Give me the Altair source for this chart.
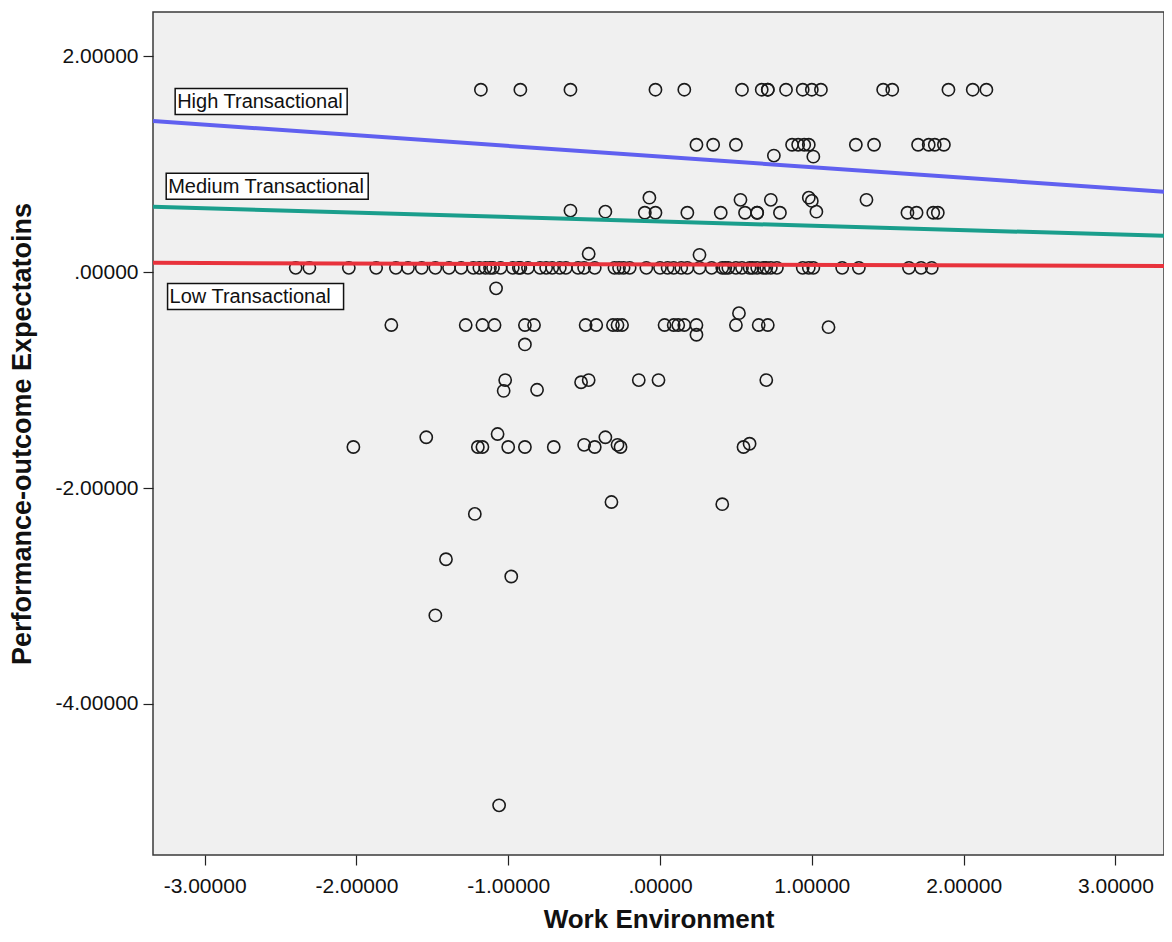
import altair as alt
import pandas as pd

# ---- scatter data (Work Environment vs Performance-outcome Expectations) ----
row1_x = [-1.18, -0.92, -0.59, -0.03, 0.16, 0.54, 0.67, 0.71, 0.71, 0.83, 0.94, 1.00, 1.06, 1.47, 1.53, 1.90, 2.06, 2.15]
row1_y = [1.69] * len(row1_x)

row2_x = [0.24, 0.35, 0.50, 0.75, 0.87, 0.91, 0.95, 0.98, 1.01, 1.29, 1.41, 1.70, 1.77, 1.81, 1.87]
row2_y = [1.18, 1.18, 1.18, 1.08, 1.18, 1.18, 1.18, 1.18, 1.07, 1.18, 1.18, 1.18, 1.18, 1.18, 1.18]

row3_x = [-0.59, -0.36, -0.10, -0.07, -0.03, 0.18, 0.40, 0.53, 0.56, 0.64, 0.64, 0.73, 0.79, 0.98, 1.00, 1.03, 1.36, 1.63, 1.69, 1.80, 1.83]
row3_y = [0.57, 0.56, 0.55, 0.69, 0.55, 0.55, 0.55, 0.67, 0.55, 0.55, 0.55, 0.67, 0.55, 0.69, 0.66, 0.56, 0.67, 0.55, 0.55, 0.55, 0.55]

row4_x = [-2.40, -2.31, -2.05, -1.87, -1.74, -1.66, -1.57, -1.48, -1.39, -1.31, -1.23, -1.19, -1.15, -1.12,
          -1.10, -1.05, -0.97, -0.93, -0.92, -0.87, -0.79, -0.75, -0.71, -0.66, -0.62, -0.54, -0.50, -0.43,
          -0.30, -0.27, -0.24, -0.20, -0.09, 0.00, 0.05, 0.09, 0.14, 0.18, 0.26, 0.34, 0.41, 0.43, 0.45,
          0.50, 0.54, 0.59, 0.61, 0.64, 0.68, 0.70, 0.73, 0.77, 0.94, 0.98, 1.01, 1.20, 1.31, 1.64, 1.72, 1.79,
          -0.47, 0.26, -1.08]
row4_y = [0.04] * 60 + [0.17, 0.16, -0.15]

row5_x = [-1.77, -1.28, -1.17, -1.09, -0.89, -0.83, -0.49, -0.42, -0.31, -0.28, -0.25, 0.03, 0.09, 0.12,
          0.16, 0.24, 0.50, 0.65, 0.71, 1.11, -0.89, 0.24, 0.52]
row5_y = [-0.49] * 19 + [-0.51, -0.67, -0.58, -0.38]

row6_x = [-1.02, -1.03, -0.81, -0.52, -0.47, -0.14, -0.01, 0.70]
row6_y = [-1.00, -1.10, -1.09, -1.02, -1.00, -1.00, -1.00, -1.00]

row7_x = [-2.02, -1.54, -1.20, -1.17, -1.07, -1.00, -0.89, -0.70, -0.50, -0.43, -0.36, -0.28, -0.26, 0.55, 0.59]
row7_y = [-1.62, -1.53, -1.62, -1.62, -1.50, -1.62, -1.62, -1.62, -1.60, -1.62, -1.53, -1.60, -1.62, -1.62, -1.59]

low_x = [-1.22, -1.41, -0.98, -1.48, -0.32, 0.41, -1.06]
low_y = [-2.24, -2.66, -2.82, -3.18, -2.13, -2.15, -4.94]

# ---- fit lines (value at left and right edge of the x range) ----
line_names = ["High Transactional", "Medium Transactional", "Low Transactional"]
line_x = [-3.34, 3.32]
line_y_left = [1.40, 0.605, 0.086]
line_y_right = [0.744, 0.336, 0.056]
line_colors = ["#6060f0", "#1a9e8c", "#e8323c"]

# ---- line labels ----
label_text = ["High Transactional", "Medium Transactional", "Low Transactional"]
label_x = [-3.194, -3.253, -3.244]
label_y = [1.581, 0.796, -0.225]

# ---- axis ticks ----
x_ticks = [-3, -2, -1, 0, 1, 2, 3]
y_ticks = [-4, -2, 0, 2]

X_DOM = [-3.34, 3.32]
Y_DOM = [-5.40, 2.41]

xs = row1_x + row2_x + row3_x + row4_x + row5_x + row6_x + row7_x + low_x
ys = row1_y + row2_y + row3_y + row4_y + row5_y + row6_y + row7_y + low_y
pts = pd.DataFrame({"x": xs, "y": ys})

lines = pd.DataFrame({
    "name": [n for n in line_names for _ in line_x],
    "x": line_x * len(line_names),
    "y": [v for l, r in zip(line_y_left, line_y_right) for v in (l, r)],
})

labels = pd.DataFrame({"text": label_text, "x": label_x, "y": label_y})

FONT = "Liberation Sans"
LABEL_EXPR = ("datum.value == 0 ? '.00000' : "
              "(datum.value < 0 ? '-' : '') + format(abs(datum.value), '.5f')")

xscale = alt.Scale(domain=X_DOM, nice=False, zero=False)
yscale = alt.Scale(domain=Y_DOM, nice=False, zero=False)

x_axis = alt.Axis(
    values=x_ticks, labelExpr=LABEL_EXPR,
    title="Work Environment", grid=False, domain=False,
    tickSize=10, tickColor="#222", tickWidth=1.2, labelPadding=10, labelFontSize=21,
    labelFont=FONT, labelColor="#111", titleFont=FONT, titleFontSize=26,
    titleFontWeight="bold", titleColor="#111",
    titleY=72, titleBaseline="alphabetic",
)
y_axis = alt.Axis(
    values=y_ticks, labelExpr=LABEL_EXPR,
    title="Performance-outcome Expectatoins", grid=False, domain=False,
    tickSize=10, tickColor="#222", tickWidth=1.2, labelPadding=5, labelFontSize=21,
    labelFont=FONT, labelColor="#111", titleFont=FONT, titleFontSize=27,
    titleFontWeight="bold", titleColor="#111",
    titleX=-131, titleBaseline="middle",
)

points = alt.Chart(pts).mark_point(
    shape="circle", size=150, filled=False, stroke="#1a1a1a", strokeWidth=1.6, opacity=1
).encode(
    x=alt.X("x:Q", scale=xscale, axis=x_axis),
    y=alt.Y("y:Q", scale=yscale, axis=y_axis),
)

fit = alt.Chart(lines).mark_line(strokeWidth=4).encode(
    x=alt.X("x:Q", scale=xscale),
    y=alt.Y("y:Q", scale=yscale),
    color=alt.Color("name:N", scale=alt.Scale(domain=line_names, range=line_colors), legend=None),
    detail="name:N",
)

box_paths = [
    "M0,-13L172,-13L172,13L0,13Z",
    "M0,-13L202,-13L202,13L0,13Z",
    "M0,-13L176,-13L176,13L0,13Z",
]
boxes = alt.Chart(labels).mark_point(
    size=4, filled=True, fill="white", stroke="#111", strokeWidth=1.5, opacity=1
).encode(
    x=alt.X("x:Q", scale=xscale),
    y=alt.Y("y:Q", scale=yscale),
    shape=alt.Shape("text:N", scale=alt.Scale(domain=label_text, range=box_paths), legend=None),
)

texts = alt.Chart(labels).mark_text(
    align="left", baseline="middle", dx=2, dy=1, font=FONT, fontSize=20, color="#111"
).encode(
    x=alt.X("x:Q", scale=xscale),
    y=alt.Y("y:Q", scale=yscale),
    text="text:N",
)

chart = alt.layer(points, fit, boxes, texts).properties(
    width=1011, height=843,
    autosize=alt.AutoSizeParams(type="none"),
    padding={"left": 145, "top": 4, "right": 0, "bottom": 79},
    background="white",
).configure_view(
    fill="#f0f0f0", stroke="#3a3a3a", strokeWidth=1.5
)

chart.save("out.html", embed_options={"renderer": "svg", "actions": False})
